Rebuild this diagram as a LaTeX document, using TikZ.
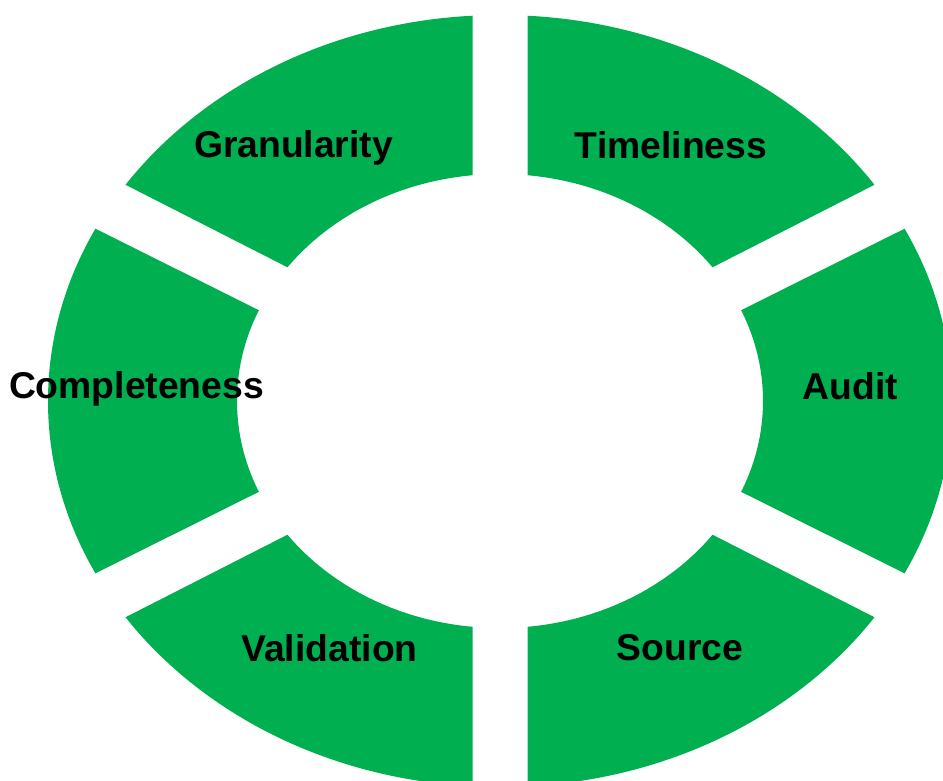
\documentclass[tikz,border=0pt]{standalone}
\usepackage{fontspec}
\setmainfont{Liberation Sans}
\usetikzlibrary{calc}
\definecolor{ringgreen}{HTML}{00B050}
\tikzset{
  seg/.style={fill=ringgreen},
  lbl/.style={anchor=base, inner sep=0pt, text=black,
    font=\fontsize{37.3}{45}\selectfont\bfseries}
}
% one piece of the ring, cut by two straight gap edges
% #1,#2: inner/outer end of the first edge; #3,#4: outer/inner end of the second
\newcommand\ringpart[4]{%
  \begin{scope}
    \clip ($(#1)!-0.4!(#2)$) -- ($(#1)!2.2!(#2)$) -- ($(#4)!2.2!(#3)$) -- ($(#4)!-0.4!(#3)$) -- cycle;
    \fill[seg, even odd rule] (C) ellipse [x radius=452, y radius=386]
                              (C) ellipse [x radius=263, y radius=227];
  \end{scope}}
\begin{document}
\begin{tikzpicture}[x=1pt, y=-1pt]
  \useasboundingbox (0,0) rectangle (943,780);
  \coordinate (C) at (500,401);
  % vertical gap edges
  \coordinate (vtli) at (472.5,175); \coordinate (vtlo) at (472.5,16);
  \coordinate (vtri) at (527.5,175); \coordinate (vtro) at (527.5,16);
  \coordinate (vbli) at (472.5,627); \coordinate (vblo) at (472.5,786);
  \coordinate (vbri) at (527.5,627); \coordinate (vbro) at (527.5,786);
  % upper / lower slanted gap edges
  \coordinate (dtli) at (283,265); \coordinate (dtlo) at (126,185);
  \coordinate (dtri) at (717,265); \coordinate (dtro) at (874,185);
  \coordinate (dbli) at (283,537); \coordinate (dblo) at (126,617);
  \coordinate (dbri) at (717,537); \coordinate (dbro) at (874,617);
  % side slanted gap edges
  \coordinate (stli) at (255.5,308.5); \coordinate (stlo) at (97,229.5);
  \coordinate (sbli) at (255.5,493.5); \coordinate (sblo) at (97,572.5);
  \coordinate (stri) at (744.5,308.5); \coordinate (stro) at (903,229.5);
  \coordinate (sbri) at (744.5,493.5); \coordinate (sbro) at (903,572.5);

  \ringpart{vtli}{vtlo}{dtlo}{dtli}   % Granularity
  \ringpart{vtri}{vtro}{dtro}{dtri}   % Timeliness
  \ringpart{stli}{stlo}{sblo}{sbli}   % Completeness
  \ringpart{stri}{stro}{sbro}{sbri}   % Audit
  \ringpart{vbli}{vblo}{dblo}{dbli}   % Validation
  \ringpart{vbri}{vbro}{dbro}{dbri}   % Source

  \node[lbl] (gran) at (293.5,157) {Granularity};
  \node[lbl] (time) at (671,158) {Timeliness};
  \node[lbl] (comp) at (136.5,398) {Completeness};
  \node[lbl] (audit) at (850.5,399) {Audit};
  \node[lbl] (valid) at (329.5,661) {Validation};
  \node[lbl] (source) at (680,660) {Source};
\end{tikzpicture}
\end{document}
